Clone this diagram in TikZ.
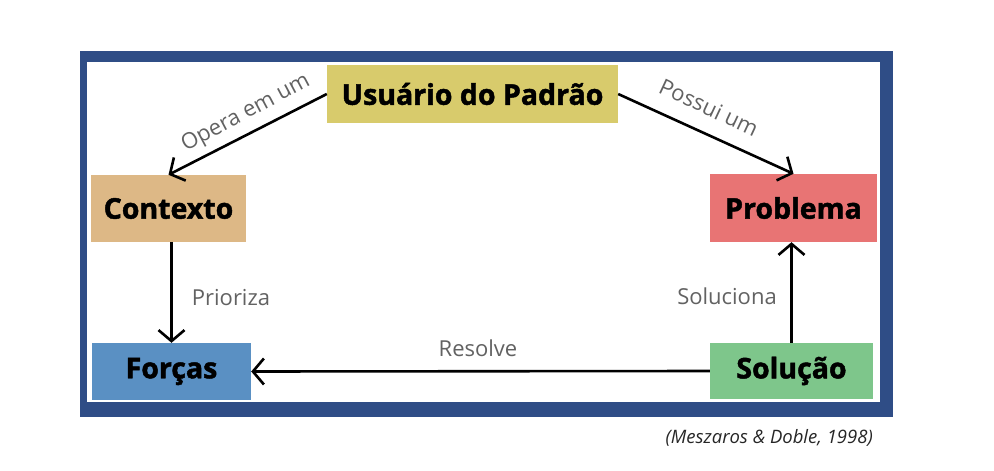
\documentclass[tikz,border=0pt]{standalone}
\usepackage{fontspec}
\setmainfont{Open Sans}
\newfontfamily\heavyfont[BoldFeatures={FakeBold=1.6}]{Open Sans}
\usetikzlibrary{arrows.meta}
\definecolor{frameblue}{HTML}{2F4D86}
\definecolor{cyellow}{HTML}{D8CB6C}
\definecolor{ctan}{HTML}{DDB886}
\definecolor{cred}{HTML}{E87474}
\definecolor{cblue}{HTML}{5A90C3}
\definecolor{cgreen}{HTML}{7EC68B}
\definecolor{lblgray}{HTML}{626262}
\tikzset{
  box/.style={rectangle, inner sep=0pt, font=\fontsize{28.5}{31}\heavyfont\bfseries, text=black},
  arr/.style={line width=2.6pt, -{Straight Barb[length=11pt,width=26pt,line width=2.6pt]}},
  lbl/.style={font=\fontsize{22}{25}\selectfont, text=lblgray, inner sep=0pt}
}
\begin{document}
\begin{tikzpicture}[x=1pt,y=1pt]
\useasboundingbox (0,0) rectangle (994,-471);
\fill[white] (0,0) rectangle (994,-471);
\fill[frameblue] (80,-51) rectangle (893,-417);
\fill[white] (87,-62) rectangle (880,-402);
\node[box, fill=cyellow, minimum width=291pt, minimum height=58pt] (U) at (472.5,-94) {Usuário do Padrão};
\node[box, fill=ctan, minimum width=155pt, minimum height=67pt] (C) at (168.5,-208.5) {Contexto};
\node[box, fill=cred, minimum width=167pt, minimum height=68pt] (P) at (793.5,-208) {Problema};
\node[box, fill=cblue, minimum width=159pt, minimum height=57pt] (F) at (171.5,-371.5) {Forças};
\node[box, fill=cgreen, minimum width=163pt, minimum height=56pt] (S) at (791.5,-371) {Solução};
\draw[arr] (U.west) -- (C.north);
\draw[arr] (U.east) -- (P.north);
\draw[arr] (C.south -| F.north) -- (F.north);
\draw[arr] (S.north) -- (S.north |- P.south);
\draw[arr] (S.west) -- (F.east);
\node[lbl, rotate=28] (l1) at (246,-113.5) {Opera em um};
\node[lbl, rotate=-25] (l2) at (709,-107.5) {Possui um};
\node[lbl] (l3) at (231,-298) {Prioriza};
\node[lbl] (l4) at (727,-296) {Soluciona};
\node[lbl] (l5) at (478,-348) {Resolve};
\node[font=\fontsize{18.5}{21}\selectfont\itshape, text=black!85, inner sep=0pt, anchor=east] (cit) at (873,-438) {(Meszaros \& Doble, 1998)};
\end{tikzpicture}
\end{document}
